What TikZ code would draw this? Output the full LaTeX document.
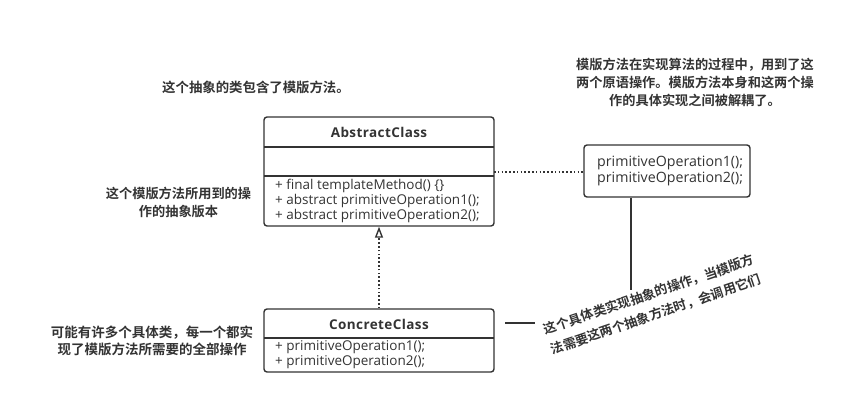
\documentclass[tikz,border=0pt]{standalone}
\usepackage{fontspec}
\setmainfont{Open Sans}
\newfontfamily\cjk{Noto Sans CJK SC}[BoldFont={Noto Sans CJK SC Bold}]
\usetikzlibrary{arrows.meta}
\definecolor{ink}{HTML}{333333}
\begin{document}
\begin{tikzpicture}[x=1pt,y=-1pt,
  umlbox/.style={draw=ink, line width=1.4pt, rounded corners=3pt, inner sep=0pt},
  sep/.style={draw=ink, line width=1.4pt},
  mtxt/.style={font=\fontsize{13.5}{15}\selectfont, text=ink, anchor=west, inner sep=0pt},
  ntxt/.style={font=\fontsize{14.2}{16}\selectfont, text=ink, align=left, inner sep=0pt},
  ttl/.style={font=\fontsize{13.5}{15}\selectfont\bfseries\addfontfeature{LetterSpace=3}, text=ink, inner sep=0pt},
  note/.style={font=\cjk\bfseries\fontsize{13.2}{18}\selectfont, text=ink, align=center, inner sep=0pt},
  dotln/.style={draw=ink, line width=1.6pt, dash pattern=on 1.6pt off 2.2pt},
  solid line/.style={draw=ink, line width=1.6pt}]
\useasboundingbox (0,0) rectangle (863,404);
% AbstractClass
\node[umlbox, minimum width=230pt, minimum height=109pt] (abs) at (379,171.5) {};
\draw[sep] (264,147) -- (494,147);
\draw[sep] (264,176) -- (494,176);
\node[ttl] (absname) at (379,132) {AbstractClass};
\node[mtxt] (m1) at (275,186) {+ final templateMethod() \{\}};
\node[mtxt] (m2) at (275,201) {+ abstract primitiveOperation1();};
\node[mtxt] (m3) at (275,216) {+ abstract primitiveOperation2();};
% ConcreteClass
\node[umlbox, minimum width=230pt, minimum height=63pt] (con) at (379,340.5) {};
\draw[sep] (264,338) -- (494,338);
\node[ttl] (conname) at (379,324) {ConcreteClass};
\node[mtxt] (c1) at (275,347) {+ primitiveOperation1();};
\node[mtxt] (c2) at (275,362) {+ primitiveOperation2();};
% note box
\node[umlbox, minimum width=166pt, minimum height=52pt] (nb) at (667,171) {};
\node[ntxt, anchor=west] (nbt) at (597,171) {primitiveOperation1();\\primitiveOperation2();};
% connectors
\coordinate (absr) at (494,172);
\coordinate (nbl) at (584,172);
\draw[dotln] (absr) -- (nbl);
\draw[dotln, -{Triangle[open, width=8pt, length=11pt, line width=1.4pt]}] (con.north) -- (abs.south);
\coordinate (nbb) at (631,290);
\draw[solid line] (nb.south -| nbb) -- (nbb);
\coordinate (cl1) at (505,323);
\coordinate (cl2) at (535,323);
\draw[solid line] (cl1) -- (cl2);
% texts
\node[note, font=\cjk\bfseries\fontsize{13.4}{18}\selectfont] (t1) at (256,87) {这个抽象的类包含了模版方法。};
\node[note] (t2) at (695,82) {模版方法在实现算法的过程中，用到了这\\两个原语操作。模版方法本身和这两个操\\作的具体实现之间被解耦了。};
\node[note] (t3) at (178.5,202.5) {这个模版方法所用到的操\\作的抽象版本};
\node[note, font=\cjk\bfseries\fontsize{13.5}{17}\selectfont] (t4) at (152,340.5) {可能有许多个具体类，每一个都实\\现了模版方法所需要的全部操作};
\node[note, rotate=18.7, font=\cjk\bfseries\fontsize{13}{21}\selectfont] (t5) at (652.5,304.5) {这个具体类实现抽象的操作，当模版方\\法需要这两个抽象方法时，会调用它们};
\end{tikzpicture}
\end{document}
